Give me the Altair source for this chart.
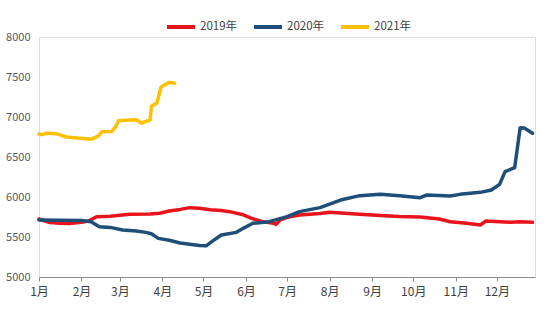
import altair as alt
import pandas as pd

series = ["2019年", "2020年", "2021年"]
colors = ["#E8141B", "#1F4E79", "#FFC000"]

days_2019 = [0, 8, 15, 22, 31, 36, 42, 52, 66, 81, 88, 95, 103, 110, 117, 125, 133, 139, 149, 156,
             163, 171, 173, 176, 181, 190, 205, 212, 220, 234, 249, 263, 278, 292, 300, 312, 322,
             326, 336, 344, 351, 360]
vals_2019 = [5725, 5680, 5672, 5670, 5685, 5700, 5754, 5758, 5783, 5787, 5796, 5825, 5845, 5867,
             5860, 5840, 5830, 5817, 5778, 5728, 5692, 5672, 5658, 5715, 5745, 5775, 5795, 5808,
             5800, 5783, 5770, 5755, 5750, 5725, 5690, 5672, 5650, 5700, 5692, 5685, 5690, 5683]

days_2020 = [0, 15, 31, 38, 44, 52, 61, 71, 78, 82, 87, 95, 103, 117, 122, 126, 133, 144, 149, 156,
             168, 181, 190, 205, 220, 234, 249, 263, 278, 283, 300, 307, 322, 330, 336, 340, 347,
             351, 354, 360]
vals_2020 = [5712, 5710, 5705, 5690, 5629, 5620, 5587, 5575, 5558, 5540, 5483, 5460, 5425, 5395,
             5390, 5442, 5525, 5558, 5608, 5671, 5692, 5754, 5817, 5867, 5962, 6017, 6033, 6017,
             5992, 6025, 6012, 6033, 6058, 6087, 6158, 6317, 6367, 6867, 6862, 6796]

days_2021 = [0, 2, 6, 13, 20, 30, 38, 43, 46, 53, 56, 58, 66, 71, 75, 77, 81, 82, 86, 89, 95, 99]
vals_2021 = [6787, 6780, 6796, 6790, 6750, 6733, 6721, 6760, 6817, 6820, 6879, 6954, 6962, 6965,
             6921, 6940, 6962, 7133, 7175, 7375, 7433, 7421]

base = pd.Timestamp("2021-01-01")
rows = []
for name, ds, vs in zip(series, [days_2019, days_2020, days_2021],
                        [vals_2019, vals_2020, vals_2021]):
    for d, v in zip(ds, vs):
        rows.append({"date": (base + pd.Timedelta(days=d)).strftime("%Y-%m-%d"),
                     "price": v, "year": name})
df = pd.DataFrame(rows)

FONT = "Noto Sans CJK SC"

chart = alt.Chart(df).mark_line(strokeWidth=3.5, strokeJoin="round", strokeCap="round").encode(
    x=alt.X("date:T",
            scale=alt.Scale(type="utc",
                            domain=[alt.DateTime(year=2021, month=1, date=1, utc=True),
                                    alt.DateTime(year=2021, month=12, date=28, hours=20, utc=True)]),
            axis=alt.Axis(title=None, grid=False, tickCount={"interval": "month", "step": 1},
                          labelExpr="(utcmonth(datum.value)+1) + '月'",
                          domainColor="#8c8c8c", tickColor="#8c8c8c", tickSize=4,
                          labelPadding=5, labelFontSize=12, labelColor="#404040",
                          labelFont=FONT, labelFlush=False, labelOverlap=False)),
    y=alt.Y("price:Q",
            scale=alt.Scale(domain=[5000, 8000], nice=False, zero=False),
            axis=alt.Axis(title=None, grid=False, values=[5000, 5500, 6000, 6500, 7000, 7500, 8000],
                          format="d", domain=False, ticks=False, labelPadding=9, labelFontSize=11,
                          labelColor="#595959", labelFont=FONT)),
    color=alt.Color("year:N",
                    scale=alt.Scale(domain=series, range=colors),
                    legend=alt.Legend(title=None, orient="none", direction="horizontal",
                                      legendX=126, legendY=-26, symbolType="stroke",
                                      symbolSize=784, symbolStrokeWidth=4, labelFontSize=11.5,
                                      labelOffset=3, columnPadding=8, padding=0,
                                      labelColor="#404040", labelFont=FONT)),
).properties(
    width=496, height=240,
    autosize=alt.AutoSizeParams(type="none"),
    padding={"left": 39, "top": 37, "right": 19, "bottom": 56},
).configure_view(stroke=None).configure(background="white")

chart.save("out.html", embed_options={"renderer": "svg", "actions": False})
